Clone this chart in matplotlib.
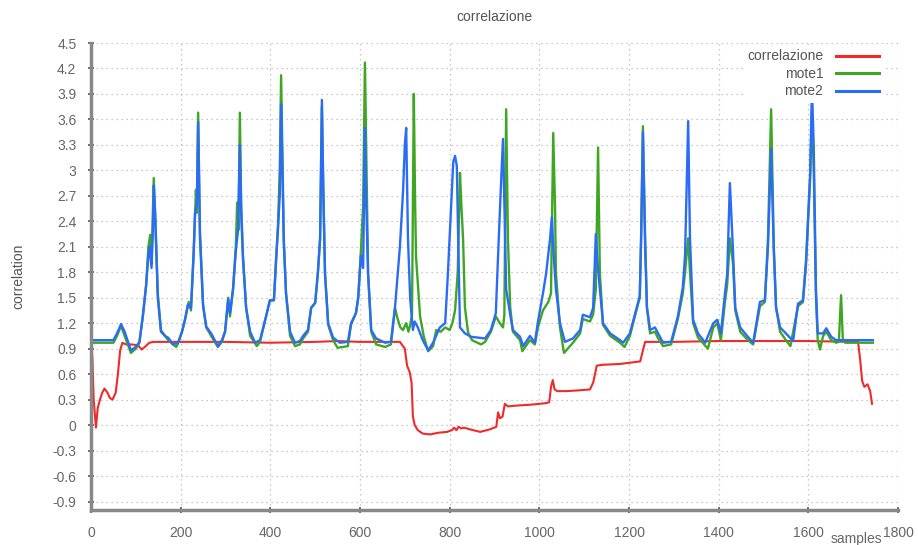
import matplotlib
matplotlib.use("Agg")
import matplotlib.pyplot as plt
from matplotlib.ticker import FixedLocator, FuncFormatter

plt.rcParams['font.family'] = ['Liberation Sans', 'DejaVu Sans']

# correlation between the two motes
corr_x = [0, 3, 6, 11, 15, 20, 25, 30, 37, 42, 48, 55, 60, 65, 70, 78, 90, 105, 113, 120,
          130, 140, 300, 400, 500, 550, 600, 689, 700, 705, 711, 715, 718, 722, 729, 740,
          756, 775, 794, 805, 810, 815, 820, 826, 832, 845, 868, 890, 904, 908, 912, 918,
          923, 930, 950, 980, 1017, 1022, 1026, 1030, 1034, 1040, 1060, 1090, 1113, 1120,
          1125, 1128, 1140, 1180, 1225, 1232, 1236, 1300, 1400, 1500, 1600, 1700, 1711,
          1716, 1720, 1725, 1732, 1738, 1742]
corr_y = [0.95, 0.8, 0.3, -0.03, 0.2, 0.3, 0.38, 0.43, 0.38, 0.32, 0.3, 0.38, 0.6, 0.88,
          0.97, 0.95, 0.95, 0.94, 0.89, 0.92, 0.97, 0.98, 0.98, 0.97, 0.98, 0.99, 0.98,
          0.98, 0.9, 0.7, 0.62, 0.5, 0.1, 0.0, -0.06, -0.1, -0.11, -0.09, -0.08, -0.06,
          -0.03, -0.06, -0.02, -0.04, -0.03, -0.05, -0.08, -0.05, -0.02, 0.15, 0.08, 0.1,
          0.25, 0.22, 0.23, 0.24, 0.26, 0.27, 0.45, 0.53, 0.42, 0.4, 0.4, 0.41, 0.42, 0.5,
          0.62, 0.7, 0.71, 0.72, 0.75, 0.9, 0.98, 0.98, 0.99, 0.99, 0.99, 0.98, 0.98,
          0.75, 0.52, 0.45, 0.48, 0.4, 0.25]

# mote1 readings
m1_x = [0, 50, 58, 67, 75, 89, 100, 108, 116, 123, 128, 132, 135, 138, 140, 143, 145, 149,
        156, 165, 172, 183, 190, 194, 203, 210, 218, 223, 229, 234, 236, 239, 243, 250,
        257, 268, 283, 292, 299, 306, 310, 317, 323, 326, 329, 332, 335, 339, 346, 355,
        370, 377, 390, 399, 408, 413, 417, 421, 424, 427, 430, 435, 444, 455, 466, 473,
        484, 491, 500, 506, 511, 515, 518, 522, 529, 540, 550, 573, 580, 591, 596, 602,
        607, 611, 614, 618, 625, 636, 656, 669, 678, 684, 690, 696, 703, 708, 712, 716,
        720, 723, 725, 734, 742, 752, 763, 770, 780, 790, 800, 806, 812, 818, 823, 826,
        830, 834, 841, 850, 870, 879, 892, 903, 912, 919, 922, 926, 930, 935, 941, 957,
        962, 979, 990, 997, 1008, 1020, 1026, 1031, 1035, 1037, 1046, 1055, 1075, 1091,
        1097, 1113, 1120, 1126, 1131, 1135, 1142, 1158, 1180, 1190, 1202, 1213, 1224,
        1227, 1231, 1236, 1240, 1247, 1258, 1265, 1276, 1294, 1309, 1320, 1325, 1332,
        1336, 1343, 1354, 1376, 1388, 1397, 1405, 1414, 1419, 1425, 1432, 1437, 1448,
        1465, 1477, 1492, 1503, 1510, 1517, 1523, 1528, 1537, 1550, 1560, 1577, 1588,
        1595, 1604, 1608, 1612, 1617, 1621, 1626, 1633, 1640, 1651, 1662, 1668, 1673,
        1677, 1682, 1744]
m1_y = [0.97, 0.97, 1.05, 1.17, 1.05, 0.85, 0.9, 0.97, 1.3, 1.65, 2.1, 2.24, 1.9, 2.5,
        2.91, 2.5, 2.2, 1.55, 1.12, 1.05, 1.0, 0.95, 0.92, 0.96, 1.1, 1.25, 1.45, 1.35,
        2.0, 2.77, 2.5, 3.68, 2.3, 1.42, 1.15, 1.05, 0.92, 0.98, 1.1, 1.5, 1.28, 1.6, 2.1,
        2.62, 2.3, 3.68, 2.6, 2.0, 1.38, 1.05, 0.93, 0.98, 1.27, 1.47, 1.47, 1.98, 2.35,
        3.0, 4.12, 3.2, 2.2, 1.55, 1.05, 0.93, 0.95, 1.02, 1.1, 1.38, 1.44, 1.8, 2.2, 3.75,
        2.8, 1.78, 1.18, 1.0, 0.91, 0.93, 1.18, 1.32, 1.5, 2.05, 2.6, 4.27, 3.2, 1.8, 1.1,
        0.95, 0.92, 0.95, 1.38, 1.25, 1.15, 1.12, 1.2, 1.1, 1.18, 1.3, 3.9, 2.6, 1.98,
        1.28, 1.05, 0.87, 0.93, 1.12, 1.1, 1.15, 1.12, 1.2, 1.35, 1.8, 2.97, 2.6, 2.18,
        1.39, 1.09, 1.0, 0.95, 0.98, 1.1, 1.28, 1.2, 1.15, 1.3, 3.72, 2.18, 1.39, 1.1, 1.0,
        0.87, 1.0, 0.95, 1.15, 1.35, 1.45, 1.55, 3.44, 2.57, 1.79, 1.15, 0.85, 0.97, 1.08,
        1.25, 1.22, 1.3, 1.6, 3.27, 1.79, 1.18, 1.05, 0.97, 0.92, 1.05, 1.28, 1.5, 2.2,
        3.52, 2.2, 1.39, 1.08, 1.1, 1.02, 0.93, 0.95, 1.25, 1.55, 1.8, 2.2, 1.8, 1.2, 1.03,
        0.9, 1.15, 1.2, 1.0, 1.45, 1.65, 2.2, 1.9, 1.35, 1.1, 1.0, 0.95, 1.4, 1.45, 2.2,
        3.72, 2.1, 1.39, 1.1, 1.0, 0.93, 1.4, 1.45, 1.9, 2.9, 3.7, 3.0, 1.5, 1.0, 0.89,
        1.05, 1.1, 1.0, 0.97, 0.98, 1.53, 1.0, 0.97, 0.97]

# mote2 readings
m2_x = [0, 50, 58, 67, 75, 89, 100, 108, 116, 123, 128, 131, 135, 138, 140, 143, 145, 149,
        156, 165, 172, 183, 194, 203, 210, 216, 223, 229, 232, 236, 239, 243, 250, 257,
        268, 283, 292, 299, 306, 310, 317, 323, 328, 332, 335, 339, 346, 355, 366, 377,
        390, 399, 408, 413, 417, 421, 424, 427, 430, 435, 444, 455, 466, 473, 484, 491,
        500, 506, 511, 515, 518, 522, 529, 540, 555, 573, 580, 591, 596, 602, 607, 611,
        614, 618, 625, 636, 656, 669, 678, 689, 696, 700, 703, 707, 712, 718, 722, 729,
        740, 752, 763, 778, 790, 796, 803, 808, 812, 816, 819, 823, 834, 848, 879, 892,
        903, 908, 915, 919, 922, 926, 935, 941, 957, 964, 979, 990, 997, 1008, 1015, 1024,
        1028, 1032, 1037, 1046, 1057, 1075, 1091, 1097, 1113, 1120, 1126, 1130, 1135,
        1142, 1158, 1180, 1187, 1202, 1213, 1224, 1227, 1231, 1236, 1240, 1247, 1258,
        1265, 1276, 1294, 1309, 1320, 1325, 1332, 1336, 1343, 1354, 1370, 1388, 1397,
        1405, 1414, 1419, 1425, 1432, 1437, 1448, 1465, 1477, 1492, 1503, 1510, 1517,
        1523, 1528, 1537, 1550, 1566, 1577, 1588, 1595, 1604, 1608, 1612, 1617, 1621,
        1633, 1640, 1651, 1662, 1680, 1744]
m2_y = [1.0, 1.0, 1.08, 1.19, 1.1, 0.88, 0.92, 0.98, 1.3, 1.65, 2.0, 2.1, 1.85, 2.3, 2.82,
        2.5, 2.15, 1.5, 1.1, 1.05, 1.03, 0.95, 0.97, 1.1, 1.25, 1.42, 1.38, 2.05, 2.5, 2.6,
        3.57, 2.2, 1.4, 1.16, 1.08, 0.93, 1.0, 1.1, 1.48, 1.32, 1.62, 2.05, 2.3, 3.3, 2.5,
        1.95, 1.38, 1.1, 0.97, 1.0, 1.27, 1.47, 1.47, 1.95, 2.3, 2.7, 3.78, 3.0, 2.15,
        1.55, 1.1, 0.97, 0.99, 1.05, 1.12, 1.38, 1.44, 1.78, 2.2, 3.83, 2.8, 1.78, 1.2,
        1.03, 0.97, 0.98, 1.2, 1.32, 1.5, 2.0, 1.85, 3.5, 2.6, 1.78, 1.12, 1.02, 0.97,
        0.98, 1.38, 2.1, 2.75, 3.3, 3.5, 2.2, 1.48, 1.12, 1.22, 1.15, 1.0, 0.88, 0.97,
        1.15, 1.2, 1.78, 2.55, 3.1, 3.17, 3.05, 2.2, 1.15, 1.08, 1.04, 1.02, 1.12, 1.32,
        2.0, 2.9, 3.37, 2.6, 1.6, 1.3, 1.12, 1.04, 0.93, 1.05, 0.97, 1.22, 1.55, 1.78, 2.2,
        2.45, 2.0, 1.6, 1.2, 0.98, 1.02, 1.12, 1.3, 1.27, 1.38, 2.25, 1.9, 1.6, 1.2, 1.08,
        1.0, 0.97, 1.08, 1.3, 1.52, 2.2, 3.45, 2.1, 1.38, 1.12, 1.15, 1.08, 0.97, 0.98,
        1.28, 1.62, 2.0, 3.58, 2.2, 1.24, 1.08, 0.97, 1.2, 1.24, 1.08, 1.55, 1.78, 2.85,
        2.05, 1.38, 1.15, 1.04, 0.97, 1.45, 1.47, 2.1, 3.25, 2.05, 1.38, 1.15, 1.08, 0.99,
        1.43, 1.47, 1.95, 2.95, 3.97, 3.3, 1.6, 1.08, 1.08, 1.14, 1.04, 1.0, 1.0, 1.0]

x_ticks = list(range(0, 2000, 200))
y_ticks = [round(-0.9 + 0.3 * i, 1) for i in range(19)]

fig = plt.figure(figsize=(9.19, 5.45), dpi=100)
ax = fig.add_axes([91 / 919, 1 - 510 / 545, (898 - 91) / 919, (510 - 43) / 545])

ax.plot(corr_x, corr_y, color="#ee2a2a", lw=1.5, label="correlazione")
ax.plot(m1_x, m1_y, color="#3fa624", lw=1.7, label="mote1")
ax.plot(m2_x, m2_y, color="#2a6cf6", lw=1.7, label="mote2")

ax.set_xlim(0, 1800)
ax.set_ylim(-1.0, 4.5)
ax.xaxis.set_major_locator(FixedLocator(x_ticks))
ax.yaxis.set_major_locator(FixedLocator(y_ticks))
ax.yaxis.set_major_formatter(FuncFormatter(lambda v, p: f"{round(v, 1) + 0:g}"))

ax.grid(True, color="#b8b8b8", lw=0.9, linestyle=(0, (1, 3)))
for side in ("top", "right"):
    ax.spines[side].set_visible(False)
for side in ("left", "bottom"):
    ax.spines[side].set_color("#888888")
    ax.spines[side].set_linewidth(2.5)
ax.tick_params(direction="inout", length=5, width=1.2, color="#555555",
               labelcolor="#666666", labelsize=10)
ax.tick_params(axis="x", pad=9)
ax.tick_params(axis="y", pad=8)

ax.set_title("correlazione", fontsize=10, color="#555555", pad=16)
fig.text(18 / 919, 1 - 276 / 545, "correlation", rotation=90, fontsize=10,
         color="#555555", ha="center", va="center")
fig.text(856 / 919, 1 - 539 / 545, "samples", fontsize=10, color="#666666",
         ha="center", va="center")

leg = ax.legend(loc="upper right", bbox_to_anchor=(0.99, 1.01), markerfirst=False,
                frameon=True, fancybox=False, fontsize=10, handlelength=3.1,
                labelspacing=0.25, borderpad=0.3, handletextpad=0.9)
leg.get_frame().set_facecolor("white")
leg.get_frame().set_edgecolor("none")
leg.get_frame().set_alpha(1.0)
for t in leg.get_texts():
    t.set_color("#555555")
    t.set_ha("right")
for h in leg.legend_handles:
    h.set_linewidth(2.2)

fig.savefig("out.png", dpi=100)
